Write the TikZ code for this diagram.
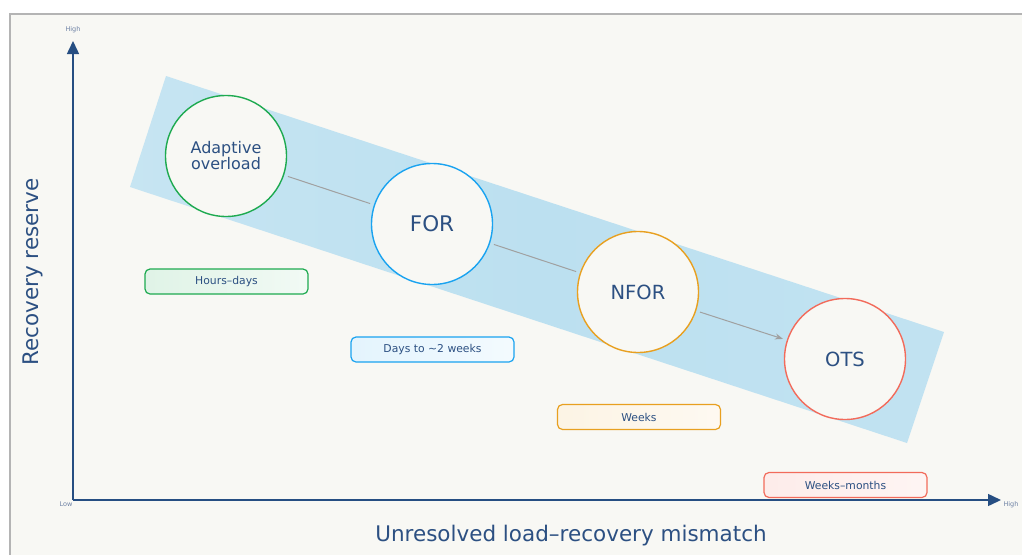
\documentclass[tikz,border=0pt]{standalone}
\usepackage{fontspec}
\setmainfont{DejaVu Sans}
\usetikzlibrary{arrows.meta}
\definecolor{bgc}{RGB}{248,248,244}
\definecolor{framec}{RGB}{180,180,180}
\definecolor{bandc}{RGB}{188,224,240}
\definecolor{txt}{RGB}{44,80,130}
\definecolor{axisc}{RGB}{38,78,130}
\definecolor{ticktxt}{RGB}{110,130,165}
\definecolor{cgreen}{RGB}{30,170,80}
\definecolor{cblue}{RGB}{26,163,240}
\definecolor{corange}{RGB}{232,160,32}
\definecolor{cred}{RGB}{242,107,91}
\definecolor{conn}{RGB}{160,160,160}
\tikzset{
  stage/.style={circle, draw=#1, line width=1.4pt, fill=bgc, minimum size=121pt, inner sep=0pt, text=txt, align=center},
  tag/.style={rectangle, rounded corners=5pt, draw=#1, line width=1.2pt, minimum width=163pt, minimum height=25pt, inner sep=0pt, text=txt, font=\fontsize{10.8}{12}\selectfont},
  link/.style={draw=conn, line width=1pt, shorten <=4pt, shorten >=4pt},
  axisline/.style={draw=axisc, line width=1.5pt},
  ticklbl/.style={text=ticktxt, font=\fontsize{6.5}{7}\selectfont, inner sep=0pt},
  axtitle/.style={text=txt, font=\fontsize{21.5}{24}\selectfont, inner sep=0pt}
}
\begin{document}
\begin{tikzpicture}[x=1pt,y=-1pt]
\useasboundingbox (0,0) rectangle (1022,554);
\clip (0,0) rectangle (1022,554);
\fill[white] (0,0) rectangle (1022,554);
\fill[bgc] (10,14) rectangle (1030,560);
\draw[framec, line width=1.8pt] (10,560) -- (10,14) -- (1030,14);
% band
\shade[left color=bandc!85!white, right color=bandc!92!white, middle color=bandc] (166,76) -- (944,332) -- (907,443) -- (130,187) -- cycle;
% axes
\coordinate (orig) at (73,500);
\coordinate (ytop) at (73,41);
\coordinate (xend) at (1001,500);
\draw[axisline, -{Triangle[length=13pt,width=12pt]}] (orig) -- (ytop);
\draw[axisline, -{Triangle[length=13pt,width=12pt]}] (orig) -- (xend);
\node[ticklbl] (hy) at (73,30) {High};
\node[ticklbl] (lo) at (66,504) {Low};
\node[ticklbl] (hx) at (1011,505) {High};
\node[axtitle, rotate=90] (yt) at (33,272) {Recovery reserve};
\node[axtitle] (xt) at (571,536) {Unresolved load–recovery mismatch};
% stages
\node[stage=cgreen, font=\fontsize{16}{16}\selectfont] (ao) at (226,156) {Adaptive\\overload};
\node[stage=cblue, font=\fontsize{21.5}{22}\selectfont] (for) at (432,224) {FOR};
\node[stage=corange, font=\fontsize{19.5}{22}\selectfont] (nfor) at (638,292) {NFOR};
\node[stage=cred, font=\fontsize{19.5}{22}\selectfont] (ots) at (845,359) {OTS};
\draw[link] (ao) -- (for);
\draw[link] (for) -- (nfor);
\draw[link, -{Stealth[length=8pt,width=6pt]}] (nfor) -- (ots);
% tags
\node[tag=cgreen, left color=cgreen!14!white, right color=cgreen!6!white] (t1) at (226.5,281.5) {Hours–days};
\node[tag=cblue, left color=cblue!12!white, right color=cblue!5!white] (t2) at (432.5,349.5) {Days to \textasciitilde2 weeks};
\node[tag=corange, left color=corange!12!white, right color=corange!6!white] (t3) at (639,417) {Weeks};
\node[tag=cred, left color=cred!13!white, right color=cred!7!white] (t4) at (845.5,485) {Weeks–months};
\end{tikzpicture}
\end{document}
